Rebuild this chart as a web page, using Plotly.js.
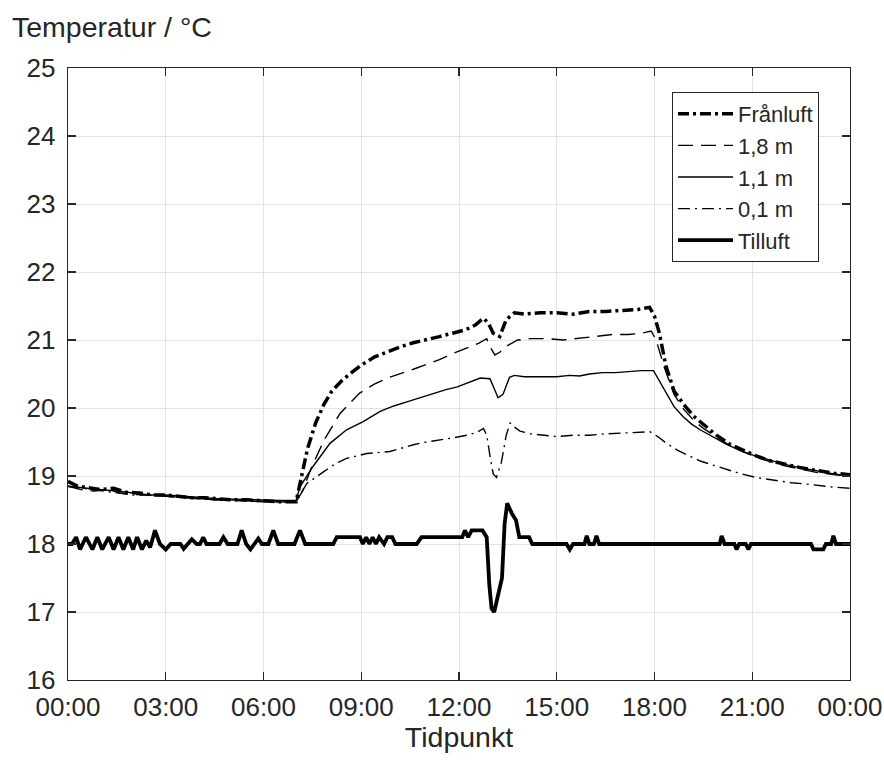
<!DOCTYPE html>
<html>
<head>
<meta charset="utf-8">
<script src="https://cdn.plot.ly/plotly-3.0.1.min.js"></script>
<style>
html,body{margin:0;padding:0;background:#fff;}
#chart{width:884px;height:760px;}
</style>
</head>
<body>
<div id="chart"></div>
<script>
// ---- data (hours since 00:00, temperature in °C) ----
const seriesNames = ['Frånluft', '1,8 m', '1,1 m', '0,1 m', 'Tilluft'];

const franluftT = [0,0.3,0.6,1.0,1.4,1.8,2.2,2.6,3.0,3.4,3.8,4.2,4.6,5.0,5.5,6.0,6.5,7.0,7.15,7.35,7.6,7.85,8.1,8.4,8.7,9.0,9.4,9.8,10.2,10.6,11.0,11.4,11.8,12.2,12.5,12.75,12.9,13.05,13.25,13.45,13.7,14.0,14.5,15.0,15.5,16.0,16.5,17.0,17.5,17.85,18.0,18.15,18.35,18.6,18.9,19.2,19.5,19.9,20.3,20.7,21.1,21.5,22.0,22.5,23.0,23.5,24.0];
const franluftV = [18.92,18.85,18.83,18.8,18.82,18.76,18.75,18.72,18.72,18.7,18.68,18.68,18.66,18.65,18.65,18.63,18.62,18.62,18.95,19.4,19.78,20.05,20.25,20.4,20.52,20.63,20.75,20.83,20.9,20.96,21.0,21.05,21.1,21.15,21.22,21.32,21.25,21.1,21.05,21.3,21.4,21.38,21.4,21.4,21.38,21.42,21.42,21.43,21.45,21.48,21.35,21.1,20.62,20.25,20.05,19.88,19.76,19.6,19.47,19.38,19.3,19.23,19.17,19.12,19.08,19.04,19.02];

const m18T = [0,0.4,0.8,1.2,1.6,2.0,2.5,3.0,3.5,4.0,4.5,5.0,5.5,6.0,6.5,7.0,7.2,7.45,7.85,8.35,8.95,9.4,9.8,10.2,10.6,11.0,11.4,11.8,12.2,12.6,12.85,12.95,13.1,13.25,13.5,13.8,14.2,14.7,15.2,15.7,16.2,16.7,17.2,17.6,17.9,18.05,18.3,18.6,18.9,19.2,19.5,19.9,20.3,20.7,21.1,21.5,22.0,22.5,23.0,23.5,24.0];
const m18V = [18.85,18.8,18.78,18.8,18.75,18.73,18.72,18.7,18.68,18.67,18.65,18.65,18.63,18.62,18.62,18.62,18.78,19.1,19.52,19.92,20.22,20.35,20.44,20.5,20.57,20.64,20.71,20.8,20.88,20.95,21.02,20.9,20.78,20.82,20.92,21.0,21.02,21.02,21.0,21.03,21.05,21.08,21.08,21.1,21.13,21.0,20.6,20.2,19.98,19.82,19.7,19.57,19.45,19.36,19.28,19.22,19.15,19.1,19.05,19.02,19.0];

const m11T = [0,0.5,1.0,1.5,2.0,2.5,3.0,3.5,4.0,4.5,5.0,5.5,6.0,6.5,7.0,7.12,7.52,8.04,8.55,9.06,9.58,10.0,10.4,10.8,11.2,11.6,11.95,12.3,12.65,12.95,13.1,13.2,13.35,13.55,13.7,14.0,14.5,15.0,15.4,15.7,16.0,16.4,16.8,17.2,17.6,17.97,18.15,18.37,18.6,18.88,19.15,19.4,19.8,20.2,20.6,21.0,21.5,22.0,22.5,23.0,23.5,24.0];
const m11V = [18.85,18.82,18.8,18.78,18.75,18.72,18.72,18.7,18.68,18.67,18.66,18.65,18.65,18.64,18.64,18.84,19.14,19.48,19.68,19.8,19.95,20.03,20.09,20.15,20.22,20.27,20.31,20.38,20.44,20.43,20.25,20.15,20.2,20.45,20.48,20.46,20.46,20.46,20.48,20.47,20.5,20.52,20.52,20.54,20.55,20.55,20.4,20.2,20.02,19.87,19.76,19.68,19.57,19.47,19.38,19.31,19.24,19.17,19.12,19.07,19.03,19.0];

const m01T = [0,0.5,1.0,1.5,2.0,2.5,3.0,3.5,4.0,4.5,5.0,5.5,6.0,6.5,7.0,7.33,7.84,8.2,8.55,9.17,9.88,10.3,10.6,11.0,11.42,11.8,12.24,12.55,12.75,12.85,12.95,13.05,13.15,13.3,13.45,13.57,13.7,13.87,14.2,14.6,15.0,15.5,16.0,16.5,17.0,17.5,17.86,18.1,18.37,18.7,19.0,19.4,19.8,20.2,20.6,21.1,21.65,22.2,22.7,23.4,24.0];
const m01V = [18.85,18.82,18.78,18.75,18.72,18.72,18.7,18.68,18.66,18.65,18.64,18.63,18.62,18.62,18.62,18.89,19.06,19.18,19.26,19.33,19.36,19.42,19.46,19.5,19.53,19.56,19.6,19.64,19.7,19.6,19.3,19.03,18.98,19.2,19.6,19.78,19.72,19.66,19.62,19.6,19.58,19.6,19.6,19.62,19.63,19.64,19.65,19.58,19.48,19.38,19.31,19.22,19.16,19.1,19.04,18.98,18.94,18.9,18.88,18.84,18.82];

const tilluftT = [0.0,0.12,0.25,0.37,0.55,0.75,0.9,1.05,1.25,1.4,1.55,1.7,1.85,2.0,2.12,2.27,2.4,2.52,2.67,2.82,3.0,3.15,3.45,3.55,3.8,3.95,4.05,4.15,4.25,4.65,4.77,4.9,5.2,5.33,5.47,5.6,5.72,5.84,5.95,6.15,6.3,6.45,6.95,7.12,7.28,8.14,8.25,8.96,9.05,9.15,9.25,9.35,9.45,9.55,9.7,9.8,9.95,10.05,10.7,10.85,12.1,12.18,12.28,12.39,12.72,12.85,12.93,13.0,13.08,13.2,13.32,13.4,13.48,13.62,13.75,13.85,14.15,14.25,15.3,15.4,15.5,15.85,15.92,16.0,16.14,16.22,16.3,20.0,20.06,20.15,20.45,20.52,20.6,20.8,20.88,20.96,22.8,22.88,23.18,23.26,23.42,23.49,23.57,24.0];
const tilluftV = [18.0,18.0,18.1,17.92,18.1,17.92,18.1,17.92,18.1,17.92,18.1,17.92,18.1,17.92,18.1,17.92,18.05,17.95,18.2,18.0,17.92,18.0,18.0,17.93,18.07,18.0,18.0,18.1,18.0,18.0,18.1,18.0,18.0,18.2,18.0,17.92,18.0,18.08,18.0,18.0,18.2,18.0,18.0,18.2,18.0,18.0,18.1,18.1,18.0,18.1,18.0,18.1,18.0,18.1,18.0,18.1,18.1,18.0,18.0,18.1,18.1,18.2,18.1,18.2,18.2,18.1,17.4,17.05,17.0,17.25,17.5,18.3,18.6,18.45,18.35,18.1,18.1,18.0,18.0,17.92,18.0,18.0,18.12,18.0,18.0,18.12,18.0,18.0,18.12,18.0,18.0,17.92,18.0,18.0,17.92,18.0,18.0,17.92,17.92,18.0,18.0,18.12,18.0,18.0];

const xTickVals = [0,3,6,9,12,15,18,21,24];
const xTickText = ['00:00','03:00','06:00','09:00','12:00','15:00','18:00','21:00','00:00'];
const yTickVals = [16,17,18,19,20,21,22,23,24,25];

const FONT = 'Liberation Sans, Arial, sans-serif';
const TXT = '#262626';

const traces = [
  {x: franluftT, y: franluftV, name: seriesNames[0], mode: 'lines',
   line: {color: '#000', width: 3.5, dash: '11px,4px,3px,4px'}},
  {x: m18T, y: m18V, name: seriesNames[1], mode: 'lines',
   line: {color: '#000', width: 1.4, dash: '15px,8px'}},
  {x: m11T, y: m11V, name: seriesNames[2], mode: 'lines',
   line: {color: '#000', width: 1.4}},
  {x: m01T, y: m01V, name: seriesNames[3], mode: 'lines',
   line: {color: '#000', width: 1.4, dash: '12px,5px,2px,5px'}},
  {x: tilluftT, y: tilluftV, name: seriesNames[4], mode: 'lines',
   line: {color: '#000', width: 3.8}}
];

const axisCommon = {
  showline: true, linecolor: TXT, linewidth: 1.3, mirror: 'ticks',
  ticks: 'inside', ticklen: 8, tickwidth: 1.3, tickcolor: TXT,
  showgrid: true, gridcolor: '#e3e3e3', gridwidth: 1,
  zeroline: false, tickfont: {family: FONT, size: 26, color: TXT}
};

const layout = {
  width: 884, height: 760,
  paper_bgcolor: '#fff', plot_bgcolor: '#fff',
  margin: {l: 68, r: 34, t: 68, b: 80},
  font: {family: FONT, color: TXT},
  title: {text: 'Temperatur / °C', x: 12/884, xref: 'container', xanchor: 'left',
          y: 1 - 27/760, yref: 'container', yanchor: 'middle',
          font: {family: FONT, size: 28.5, color: TXT}},
  xaxis: Object.assign({}, axisCommon, {
    range: [0, 24], tickvals: xTickVals, ticktext: xTickText, ticklabelstandoff: 3,
    title: {text: 'Tidpunkt', standoff: 6, font: {family: FONT, size: 28.5, color: TXT}}
  }),
  yaxis: Object.assign({}, axisCommon, {
    range: [16, 25], tickvals: yTickVals, ticklabelstandoff: 6
  }),
  showlegend: true,
  legend: {
    x: (672-68)/782, y: (680-92)/612, xanchor: 'left', yanchor: 'top',
    bgcolor: '#fff', bordercolor: TXT, borderwidth: 1, itemwidth: 55,
    font: {family: FONT, size: 22, color: TXT}, tracegroupgap: 0
  }
};

Plotly.newPlot('chart', traces, layout, {displayModeBar: false, staticPlot: true});
</script>
</body>
</html>
